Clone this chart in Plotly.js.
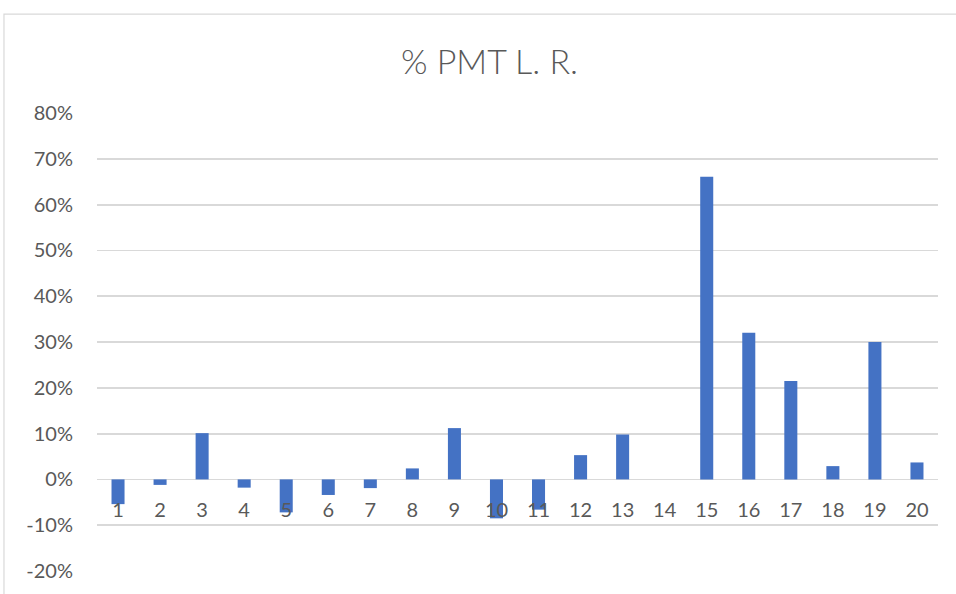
<!DOCTYPE html>
<html>
<head>
<meta charset="utf-8">
<script src="https://cdn.plot.ly/plotly-3.0.1.min.js"></script>
<style>html,body{margin:0;padding:0;background:#fff;}#chart{width:956px;height:594px;}</style>
</head>
<body>
<div id="chart"></div>
<script>
const categories = ["1","2","3","4","5","6","7","8","9","10","11","12","13","14","15","16","17","18","19","20"];
const values = [-5.4,-1.2,10.1,-1.8,-7.2,-3.4,-1.9,2.4,11.2,-8.5,-6.6,5.3,9.8,0,66.1,32.0,21.5,2.9,30.0,3.7];
const yTicks = [-20,-10,0,10,20,30,40,50,60,70,80];
const yTickText = yTicks.map(v => v + "%");
const chartTitle = "% PMT L. R.";

const fontFam = "Lato, 'Open Sans', 'DejaVu Sans', sans-serif";
Plotly.newPlot("chart", [{
  type: "bar",
  x: categories,
  y: values,
  marker: {color: "#4472C4"},
  hoverinfo: "x+y"
}], {
  width: 956, height: 594,
  margin: {l: 97, r: 18, t: 113, b: 23},
  paper_bgcolor: "#ffffff",
  plot_bgcolor: "#ffffff",
  bargap: 0.69,
  showlegend: false,
  title: {text: chartTitle, x: 0.512, xanchor: "center", y: 0.895, yanchor: "middle",
          font: {family: fontFam, size: 34, weight: 300, color: "#595959"}},
  xaxis: {
    type: "category",
    range: [-0.5, 19.5],
    anchor: "free",
    position: 0.2,
    showgrid: false,
    showline: false,
    zeroline: false,
    ticks: "",
    ticklabelstandoff: 17,
    tickfont: {family: fontFam, size: 20, color: "#595959"}
  },
  yaxis: {
    range: [-20, 80],
    tickvals: yTicks,
    ticktext: yTickText,
    showgrid: true,
    gridcolor: "#d9d9d9",
    gridwidth: 1.8,
    zeroline: true,
    zerolinecolor: "#d9d9d9",
    zerolinewidth: 1.8,
    showline: false,
    ticks: "",
    ticklabelstandoff: 23,
    tickfont: {family: fontFam, size: 20, color: "#595959"}
  },
  shapes: [{
    type: "rect", xref: "paper", yref: "paper",
    x0: -0.1106, x1: 1.2, y0: -0.5, y1: 1.216,
    line: {color: "#d9d9d9", width: 1.2}, fillcolor: "rgba(0,0,0,0)", layer: "below"
  }]
}, {staticPlot: true});
</script>
</body>
</html>
